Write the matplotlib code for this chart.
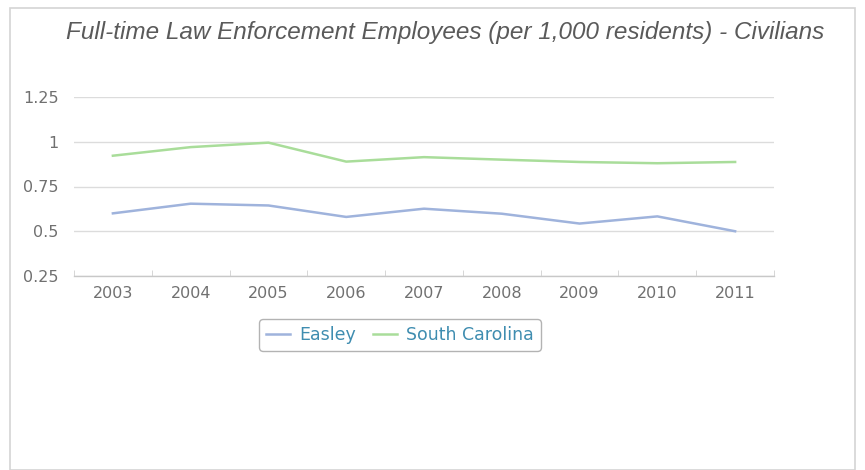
import matplotlib
matplotlib.use('Agg')
import matplotlib.pyplot as plt
import numpy as np
from matplotlib.patches import Rectangle

# data
years = ['2003', '2004', '2005', '2006', '2007', '2008', '2009', '2010', '2011']
easley = [0.60, 0.654, 0.644, 0.58, 0.626, 0.598, 0.543, 0.583, 0.50]
south_carolina = [0.922, 0.97, 0.995, 0.889, 0.914, 0.90, 0.887, 0.88, 0.887]
yticks = [0.25, 0.5, 0.75, 1, 1.25]
ytick_labels = ['0.25', '0.5', '0.75', '1', '1.25']

W, H = 865, 470
fig = plt.figure(figsize=(W / 100, H / 100), dpi=100)
fig.patch.set_facecolor('white')

# outer frame
fig.patches.append(Rectangle((10 / W, 0), 845 / W, 462 / H, transform=fig.transFigure,
                             fill=False, edgecolor='#d4d4d4', linewidth=1.2))

ax = fig.add_axes([74 / W, (H - 276) / H, 700 / W, 179 / H])
x = np.arange(len(years))

ax.plot(x, easley, color='#9fb3dc', linewidth=1.8, label='Easley', clip_on=False)
ax.plot(x, south_carolina, color='#a9dd9a', linewidth=1.8, label='South Carolina', clip_on=False)

ax.set_xlim(-0.5, len(years) - 0.5)
ax.set_ylim(0.25, 1.25)

for s in ['top', 'right', 'left']:
    ax.spines[s].set_visible(False)
ax.spines['bottom'].set_color('#c8c8c8')
ax.spines['bottom'].set_linewidth(1)

ax.set_yticks(yticks)
ax.set_yticklabels(ytick_labels)
ax.yaxis.grid(True, color='#dcdcdc', linewidth=1)
ax.set_axisbelow(True)
ax.tick_params(axis='y', length=0, pad=11, labelsize=11.5, labelcolor='#707070')

ax.set_xticks(x)
ax.set_xticklabels(years)
ax.tick_params(axis='x', length=0, pad=7, labelsize=11.5, labelcolor='#707070')
ax.set_xticks(np.arange(len(years) + 1) - 0.5, minor=True)
ax.tick_params(axis='x', which='minor', length=4, direction='in', color='#d0d0d0')

fig.text(445 / W, 1 - 32 / H, 'Full-time Law Enforcement Employees (per 1,000 residents) - Civilians',
         ha='center', va='center', fontsize=17.5, style='italic', color='#5a5a5a',
         family='Liberation Sans')

leg = ax.legend(loc='center', bbox_to_anchor=(400 / W, 1 - 335 / H), bbox_transform=fig.transFigure,
                ncol=2, frameon=True, fontsize=12.5, handlelength=1.4, handletextpad=0.5,
                columnspacing=1.0, borderpad=0.4, fancybox=True)
leg.get_frame().set_edgecolor('#a0a0a0')
leg.get_frame().set_linewidth(1)
for t in leg.get_texts():
    t.set_color('#3f8db0')

fig.savefig('out.png', dpi=100)
